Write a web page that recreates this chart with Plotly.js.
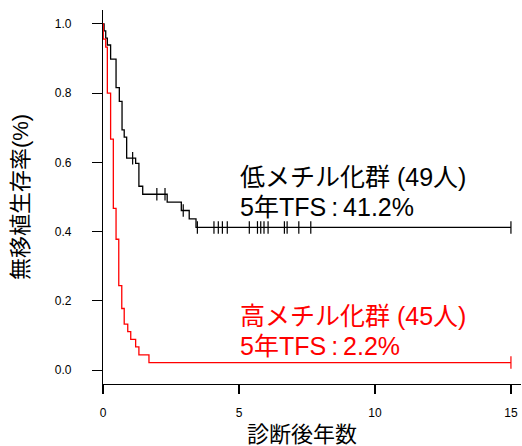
<!DOCTYPE html>
<html>
<head>
<meta charset="utf-8">
<script src="https://cdn.plot.ly/plotly-3.0.1.min.js"></script>
<style>html,body{margin:0;padding:0;background:#fff;}#chart{width:522px;height:446px;}</style>
</head>
<body>
<div id="chart"></div>
<script>
// Low-methylation group (49 patients): Kaplan–Meier step curve
const lowTime = [0, 0.04, 0.10, 0.16, 0.28, 0.48, 0.60, 0.70, 0.78, 0.87, 1.20, 1.32, 1.46, 2.36, 2.88, 3.17, 3.42, 15];
const lowSurv = [1.0, 0.980, 0.959, 0.939, 0.898, 0.816, 0.776, 0.694, 0.673, 0.612, 0.597, 0.531, 0.508, 0.485, 0.461, 0.437, 0.412, 0.412];
const lowCensorTime = [1.09, 1.98, 2.28, 2.95, 3.47, 4.08, 4.24, 4.39, 4.57, 5.38, 5.68, 5.80, 5.92, 6.07, 6.67, 6.77, 7.20, 7.64, 15];
const lowCensorSurv = [0.612, 0.508, 0.508, 0.461, 0.412, 0.412, 0.412, 0.412, 0.412, 0.412, 0.412, 0.412, 0.412, 0.412, 0.412, 0.412, 0.412, 0.412, 0.412];

// High-methylation group (45 patients)
const highTime = [0, 0.01, 0.10, 0.16, 0.28, 0.38, 0.48, 0.58, 0.69, 0.78, 0.91, 1.02, 1.20, 1.32, 1.69, 15];
const highSurv = [1.0, 0.956, 0.933, 0.800, 0.667, 0.467, 0.378, 0.244, 0.178, 0.133, 0.111, 0.089, 0.067, 0.044, 0.022, 0.022];
const highCensorTime = [15];
const highCensorSurv = [0.022];

const xTicks = [0, 5, 10, 15];
const yTicks = [0.0, 0.2, 0.4, 0.6, 0.8, 1.0];
const yTickText = ["0.0", "0.2", "0.4", "0.6", "0.8", "1.0"];

const lowLabel = ["低メチル化群 (49人)", "5年TFS\u2009:\u200941.2%"];
const highLabel = ["高メチル化群 (45人)", "5年TFS\u2009:\u20092.2%"];
const xTitle = "診断後年数";
const yTitle = "無移植生存率(%)";

const FONT = "'Liberation Sans', Arial, 'Noto Sans CJK JP', sans-serif";
const BLACK = "#000000";
const RED = "#ff0000";

const traces = [
  {x: lowTime, y: lowSurv, type: "scatter", mode: "lines",
   line: {shape: "hv", color: BLACK, width: 1.3}, hoverinfo: "skip"},
  {x: lowCensorTime, y: lowCensorSurv, type: "scatter", mode: "markers",
   marker: {symbol: "line-ns-open", size: 9, color: BLACK, line: {color: BLACK, width: 1.2}}, hoverinfo: "skip"},
  {x: highTime, y: highSurv, type: "scatter", mode: "lines",
   line: {shape: "hv", color: RED, width: 1.3}, hoverinfo: "skip"},
  {x: highCensorTime, y: highCensorSurv, type: "scatter", mode: "markers",
   marker: {symbol: "line-ns-open", size: 9, color: RED, line: {color: RED, width: 1.2}}, hoverinfo: "skip"}
];

function label(text, y, color) {
  return {text: text, xref: "x", yref: "y", x: 4.98, y: y, xanchor: "left", yanchor: "middle",
          align: "left", showarrow: false, font: {size: 25, family: FONT, color: color}};
}

const layout = {
  width: 522, height: 446,
  margin: {l: 103, r: 1, t: 10, b: 62, pad: 0},
  paper_bgcolor: "#ffffff", plot_bgcolor: "#ffffff",
  showlegend: false,
  font: {family: FONT, color: BLACK},
  xaxis: {
    range: [0, 15.37], tickvals: xTicks, ticktext: xTicks.map(String),
    showgrid: false, zeroline: false, showline: true, linecolor: BLACK, linewidth: 1.2,
    ticks: "outside", ticklen: 9, tickwidth: 1.2, tickcolor: BLACK,
    tickfont: {size: 12, family: FONT, color: BLACK}, ticklabelstandoff: 8,
    automargin: false, fixedrange: true
  },
  yaxis: {
    range: [-0.04, 1.04], tickvals: yTicks, ticktext: yTickText,
    showgrid: false, zeroline: false, showline: true, linecolor: BLACK, linewidth: 1.2,
    ticks: "outside", ticklen: 10, tickwidth: 1.2, tickcolor: BLACK,
    tickfont: {size: 12, family: FONT, color: BLACK}, ticklabelstandoff: 18,
    title: {text: yTitle, font: {size: 22, family: FONT, color: BLACK}, standoff: 20},
    automargin: false, fixedrange: true
  },
  annotations: [
    label(lowLabel[0], 0.5576, BLACK),
    label(lowLabel[1], 0.4710, BLACK),
    label(highLabel[0], 0.1562, RED),
    label(highLabel[1], 0.0696, RED),
    {text: xTitle, xref: "paper", yref: "paper", x: 0.476, y: -0.136, xanchor: "center", yanchor: "middle",
     showarrow: false, font: {size: 22, family: FONT, color: BLACK}}
  ]
};

Plotly.newPlot("chart", traces, layout, {staticPlot: true, displayModeBar: false});
</script>
</body>
</html>
